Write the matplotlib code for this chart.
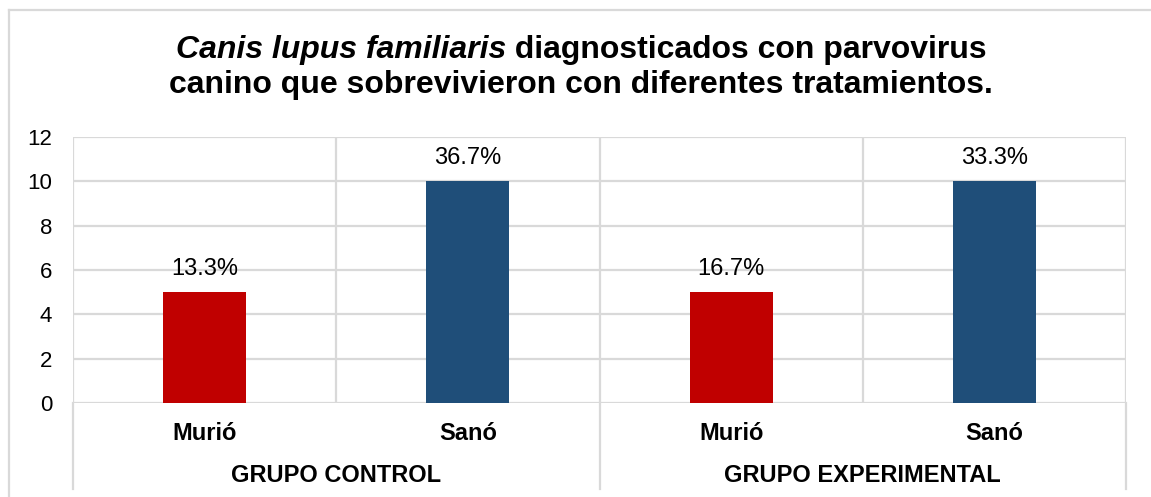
import matplotlib
matplotlib.use("Agg")
import matplotlib.pyplot as plt
from matplotlib.lines import Line2D

plt.rcParams['font.family'] = ['Liberation Sans', 'DejaVu Sans']

groups = ['GRUPO CONTROL', 'GRUPO EXPERIMENTAL']
outcomes = ['Murió', 'Sanó', 'Murió', 'Sanó']
counts = [5, 10, 5, 10]
pct_labels = ['13.3%', '36.7%', '16.7%', '33.3%']
bar_colors = ['#C00000', '#1F4E79', '#C00000', '#1F4E79']
yticks = [0, 2, 4, 6, 8, 10, 12]

grid_c = '#D9D9D9'
W, H = 1151, 497
fig = plt.figure(figsize=(W / 100, H / 100), dpi=100)
ax = fig.add_axes([73 / W, 1 - 403 / H, (1126 - 73) / W, (403 - 137) / H])

# outer chart border (cropped on right/bottom like the reference)
fig.add_artist(Line2D([9 / W, 1.0], [1 - 10 / H, 1 - 10 / H], transform=fig.transFigure, color=grid_c, lw=1.6))
fig.add_artist(Line2D([9 / W, 9 / W], [0, 1 - 10 / H], transform=fig.transFigure, color=grid_c, lw=1.6))

xpos = [i + 0.5 for i in range(len(counts))]
ax.bar(xpos, counts, width=0.316, color=bar_colors, zorder=3)

for x, v, lab in zip(xpos, counts, pct_labels):
    ax.annotate(lab, (x, v), xytext=(0, 17), textcoords='offset points',
                ha='center', va='center', fontsize=17, color='#000000')

ax.set_xlim(0, len(counts))
ax.set_ylim(0, 12)
ax.set_yticks(yticks)
ax.set_xticks([])
ax.tick_params(axis='y', length=0, pad=15, labelsize=16)
for s in ax.spines.values():
    s.set_visible(False)

for y in yticks:
    ax.axhline(y, color=grid_c, lw=1.6, zorder=1)
for i in range(len(counts) + 1):
    ax.axvline(i, color=grid_c, lw=1.6, zorder=1)

# multi-level category axis
bx = ax.get_xaxis_transform()
for i in [0, 2, 4]:
    ax.plot([i, i], [0, -86 / 266], transform=bx, color=grid_c, lw=1.6, clip_on=False)
for x, lab in zip(xpos, outcomes):
    ax.text(x, -30 / 266, lab, transform=bx, ha='center', va='center', fontsize=17, fontweight='bold')
for g, lab in enumerate(groups):
    ax.text(2 * g + 1, -72 / 266, lab, transform=bx, ha='center', va='center', fontsize=17, fontweight='bold')

# title: italic species name + bold rest, centred
cx = 581 / W
t1a = fig.text(0, 1 - 50 / H, 'Canis lupus familiaris', fontsize=23, fontweight='bold', fontstyle='italic', va='center')
t1b = fig.text(0, 1 - 50 / H, ' diagnosticados con parvovirus', fontsize=23, fontweight='bold', va='center')
fig.text(cx, 1 - 85 / H, 'canino que sobrevivieron con diferentes tratamientos.', fontsize=23,
         fontweight='bold', ha='center', va='center')
fig.canvas.draw()
r = fig.canvas.get_renderer()
wa = t1a.get_window_extent(r).width / W
wb = t1b.get_window_extent(r).width / W
x0 = cx - (wa + wb) / 2
t1a.set_x(x0)
t1b.set_x(x0 + wa)

fig.savefig('out.png', dpi=100)
